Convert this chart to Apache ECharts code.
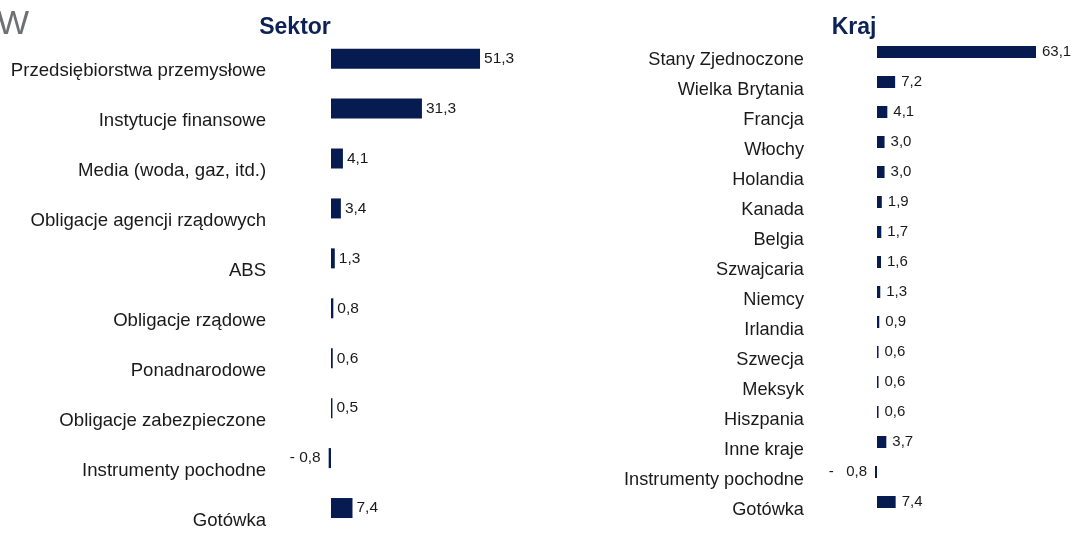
<!DOCTYPE html>
<html>
<head>
<meta charset="utf-8">
<script src="https://cdn.jsdelivr.net/npm/echarts@6/dist/echarts.min.js"></script>
<style>
  html, body { margin: 0; padding: 0; background: #ffffff; }
  #chart { width: 1072px; height: 533px; }
</style>
</head>
<body>
<div id="chart"></div>
<script>
const sectorNames = [
  'Przedsiębiorstwa przemysłowe',
  'Instytucje finansowe',
  'Media (woda, gaz, itd.)',
  'Obligacje agencji rządowych',
  'ABS',
  'Obligacje rządowe',
  'Ponadnarodowe',
  'Obligacje zabezpieczone',
  'Instrumenty pochodne',
  'Gotówka'
];
const sectorValues = [51.3, 31.3, 4.1, 3.4, 1.3, 0.8, 0.6, 0.5, -0.8, 7.4];

const countryNames = [
  'Stany Zjednoczone',
  'Wielka Brytania',
  'Francja',
  'Włochy',
  'Holandia',
  'Kanada',
  'Belgia',
  'Szwajcaria',
  'Niemcy',
  'Irlandia',
  'Szwecja',
  'Meksyk',
  'Hiszpania',
  'Inne kraje',
  'Instrumenty pochodne',
  'Gotówka'
];
const countryValues = [63.1, 7.2, 4.1, 3.0, 3.0, 1.9, 1.7, 1.6, 1.3, 0.9, 0.6, 0.6, 0.6, 3.7, -0.8, 7.4];

const titles = ['Sektor', 'Kraj'];

const BAR = '#061b50';
const TXT = '#1a1a1a';
const FONT = '"Liberation Sans", Arial, sans-serif';

function fmt(v, sep) {
  const s = Math.abs(v).toFixed(1).replace('.', ',');
  return v < 0 ? '-' + sep + s : s;
}
function toData(values, dist, negDist) {
  return values.map(v => ({
    value: v,
    label: { position: v < 0 ? 'left' : 'right', distance: v < 0 ? negDist : dist }
  }));
}

const chart = echarts.init(document.getElementById('chart'), null, { renderer: 'canvas' });

const pxL = 2.905, pxR = 2.52;
const zeroL = 331, zeroR = 877;

const option = {
  animation: false,
  backgroundColor: '#ffffff',
  textStyle: { fontFamily: FONT },
  graphic: [
    { type: 'text', left: -3, top: 8, style: { text: 'W', font: '34px ' + FONT, fill: '#6e7073' } },
    { type: 'text', x: 295, y: 28, style: { text: titles[0], font: 'bold 23px ' + FONT, fill: '#0c2257', textAlign: 'center', textVerticalAlign: 'middle' } },
    { type: 'text', x: 854, y: 28, style: { text: titles[1], font: 'bold 23px ' + FONT, fill: '#0c2257', textAlign: 'center', textVerticalAlign: 'middle' } }
  ],
  grid: [
    { left: zeroL - pxL, top: 33.67, width: 61 * pxL, height: 506.7, containLabel: false },
    { left: zeroR - pxR, top: 37, width: 71 * pxR, height: 480, containLabel: false }
  ],
  xAxis: [
    { gridIndex: 0, type: 'value', min: -1, max: 60, show: false, splitLine: { show: false } },
    { gridIndex: 1, type: 'value', min: -1, max: 70, show: false, splitLine: { show: false } }
  ],
  yAxis: [
    {
      gridIndex: 0, type: 'category', data: sectorNames, inverse: true,
      axisLine: { show: false }, axisTick: { show: false }, splitLine: { show: false },
      axisLabel: { margin: 62, color: TXT, fontSize: 18.6, fontFamily: FONT, verticalAlign: 'top', lineHeight: 25 }
    },
    {
      gridIndex: 1, type: 'category', data: countryNames, inverse: true,
      axisLine: { show: false }, axisTick: { show: false }, splitLine: { show: false },
      axisLabel: { margin: 70.5, color: TXT, fontSize: 18.2, fontFamily: FONT, verticalAlign: 'top', lineHeight: 16 }
    }
  ],
  series: [
    {
      type: 'bar', xAxisIndex: 0, yAxisIndex: 0,
      data: toData(sectorValues, 4, 8),
      barWidth: 20,
      itemStyle: { color: BAR },
      label: { show: true, color: TXT, fontSize: 15.5, fontFamily: FONT, formatter: p => fmt(p.value, ' ') }
    },
    {
      type: 'bar', xAxisIndex: 1, yAxisIndex: 1,
      data: toData(countryValues, 6, 8),
      barWidth: 12,
      itemStyle: { color: BAR },
      label: { show: true, color: TXT, fontSize: 15, fontFamily: FONT, formatter: p => fmt(p.value, '   ') }
    }
  ]
};
chart.setOption(option);
</script>
</body>
</html>
